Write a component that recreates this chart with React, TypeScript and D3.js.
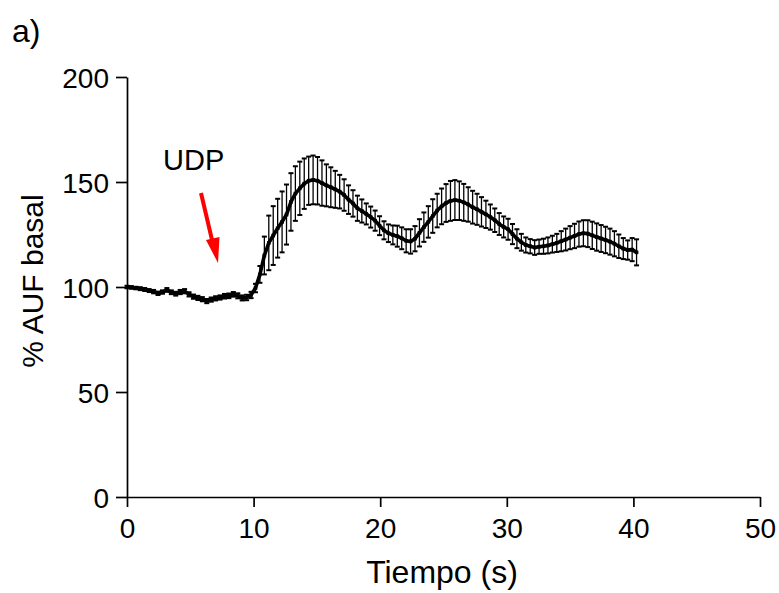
import React, { useEffect, useRef } from 'react'
import * as d3 from 'd3'

// sampling interval of the recording (s)
const DT = 0.35

// mean % AUF basal at each frame
const meanValues = [
  100, 99.8, 99.5, 99.2, 98.8, 98.3, 97.8, 97.0, 97.6, 98.6,
  97.5, 96.8, 97.6, 98.0, 96.5, 95.4, 94.8, 94.2, 93.3, 94.0,
  94.6, 95.0, 95.6, 95.8, 96.5, 95.8, 94.8, 95.0, 96.2, 99.5,
  106, 115, 121, 124.5, 128, 131, 134.5, 140.5, 144.5, 147,
  149.2, 150.6, 151, 150.6, 149.5, 148.4, 147.5, 146.5, 145.4, 143.8,
  141.6, 139.8, 137.5, 136.2, 134.8, 133.3, 131.6, 129.2, 127, 125.6,
  124.8, 124.2, 123.2, 122, 121.7, 123, 125.8, 128.5, 131, 133.8,
  136.4, 138.4, 140, 141, 141.4, 141.1, 140.3, 139.3, 138, 137,
  135.8, 134.6, 133.3, 131.8, 130, 128.6, 127.5, 125.2, 123, 121.3,
  120, 119.4, 118.8, 119.2, 119.4, 119.8, 120.4, 121, 121.8, 122.6,
  123.5, 124.3, 125.2, 125.6, 125.4, 124.6, 123.8, 123.1, 122.4, 121.6,
  120.6, 119.4, 118.3, 117.6, 117.8, 116.5,
]

// standard error at each frame
const errValues = [
  0.6, 0.6, 0.6, 0.7, 0.7, 0.7, 0.8, 0.8, 0.8, 0.9,
  0.9, 0.9, 1.0, 1.0, 1.0, 1.0, 1.0, 1.0, 1.0, 1.0,
  1.0, 1.0, 1.1, 1.1, 1.1, 1.2, 1.2, 1.3, 1.5, 2,
  4, 9, 13, 14, 14, 14.5, 14.3, 13.7, 13, 12.7,
  12, 11.5, 11.6, 11.3, 10.8, 10, 9.5, 8.8, 8, 7.5,
  6.8, 6.3, 6, 5.5, 5, 5, 4.8, 4.5, 4.3, 4.2,
  4.5, 5, 5.2, 5.5, 5.8, 6, 6.5, 7, 7.5, 8,
  8, 8.5, 9, 9.5, 9.5, 9.2, 8.8, 8.2, 7.8, 7.4,
  7, 6.5, 6, 5.6, 5.2, 5, 5, 4.8, 4.5, 4,
  3.6, 3.4, 3.5, 3.4, 3.6, 3.8, 4, 4.3, 4.8, 5.2,
  5.5, 5.8, 6, 6.2, 6.4, 6.5, 6.5, 6.4, 6.3, 6.2,
  6, 5.6, 5, 4.6, 5.5, 6.2,
]

const xTicks = [0, 10, 20, 30, 40, 50]
const yTicks = [0, 50, 100, 150, 200]

const W = 779
const H = 593
const FONT = '"Liberation Sans", Arial, sans-serif'

export default function App() {
  const xAxisRef = useRef<SVGGElement>(null)
  const yAxisRef = useRef<SVGGElement>(null)

  const x = d3.scaleLinear().domain([0, 50]).range([127, 760])
  const y = d3.scaleLinear().domain([0, 200]).range([497, 77])

  const points = meanValues.map((v, i) => ({ t: i * DT, v, e: errValues[i] }))

  const line = d3.line<{ t: number; v: number }>()
    .x(d => x(d.t))
    .y(d => y(d.v))

  useEffect(() => {
    const xa = d3.axisBottom(x).tickValues(xTicks).tickSize(10).tickSizeOuter(0).tickPadding(5)
    const ya = d3.axisLeft(y).tickValues(yTicks).tickSize(11).tickSizeOuter(0).tickPadding(7)
    const gx = d3.select(xAxisRef.current!).call(xa)
    const gy = d3.select(yAxisRef.current!).call(ya)
    for (const g of [gx, gy]) {
      g.selectAll('path').attr('stroke', '#000').attr('stroke-width', 1.7)
      g.selectAll('line').attr('stroke', '#000').attr('stroke-width', 1.7)
      g.selectAll('text').attr('fill', '#000').style('font-family', FONT).style('font-size', '28px')
    }
    gx.selectAll('text').attr('dy', '0.92em')
    gy.selectAll('text').attr('dy', '0.36em')
  })

  return (
    <svg width={W} height={H} style={{ position: 'absolute', left: 0, top: 0, background: '#fff' }}>
      <rect width={W} height={H} fill="#fff" />
      <text x={12} y={42} fontFamily={FONT} fontSize={32}>a)</text>

      {/* error bars */}
      <g stroke="#000" strokeWidth={1.3}>
        {points.map((d, i) => (
          <g key={i}>
            <line x1={x(d.t)} x2={x(d.t)} y1={y(d.v - d.e)} y2={y(d.v + d.e)} />
            <line x1={x(d.t) - 2.5} x2={x(d.t) + 2.5} y1={y(d.v + d.e)} y2={y(d.v + d.e)} strokeWidth={2} />
            <line x1={x(d.t) - 2.5} x2={x(d.t) + 2.5} y1={y(d.v - d.e)} y2={y(d.v - d.e)} strokeWidth={2} />
          </g>
        ))}
      </g>

      {/* mean trace */}
      <path d={line(points) ?? ''} fill="none" stroke="#000" strokeWidth={3.6} strokeLinejoin="round" />
      <g fill="#000">
        {points.map((d, i) => (
          <rect key={i} x={x(d.t) - 1.8} y={y(d.v) - 1.8} width={3.6} height={3.6} />
        ))}
      </g>

      <g ref={xAxisRef} transform={`translate(0,${y(0)})`} />
      <g ref={yAxisRef} transform={`translate(${x(0)},0)`} />

      {/* stimulus annotation */}
      <text x={163} y={170} fontFamily={FONT} fontSize={29}>UDP</text>
      <line x1={201} y1={193} x2={212.5} y2={242} stroke="#ff0000" strokeWidth={4} />
      <polygon points="218,263 206,240 219.5,237" fill="#ff0000" />

      <text x={442} y={583} textAnchor="middle" fontFamily={FONT} fontSize={32}>Tiempo (s)</text>
      <text transform="translate(43,281) rotate(-90)" textAnchor="middle" fontFamily={FONT} fontSize={30}>% AUF basal</text>
    </svg>
  )
}
